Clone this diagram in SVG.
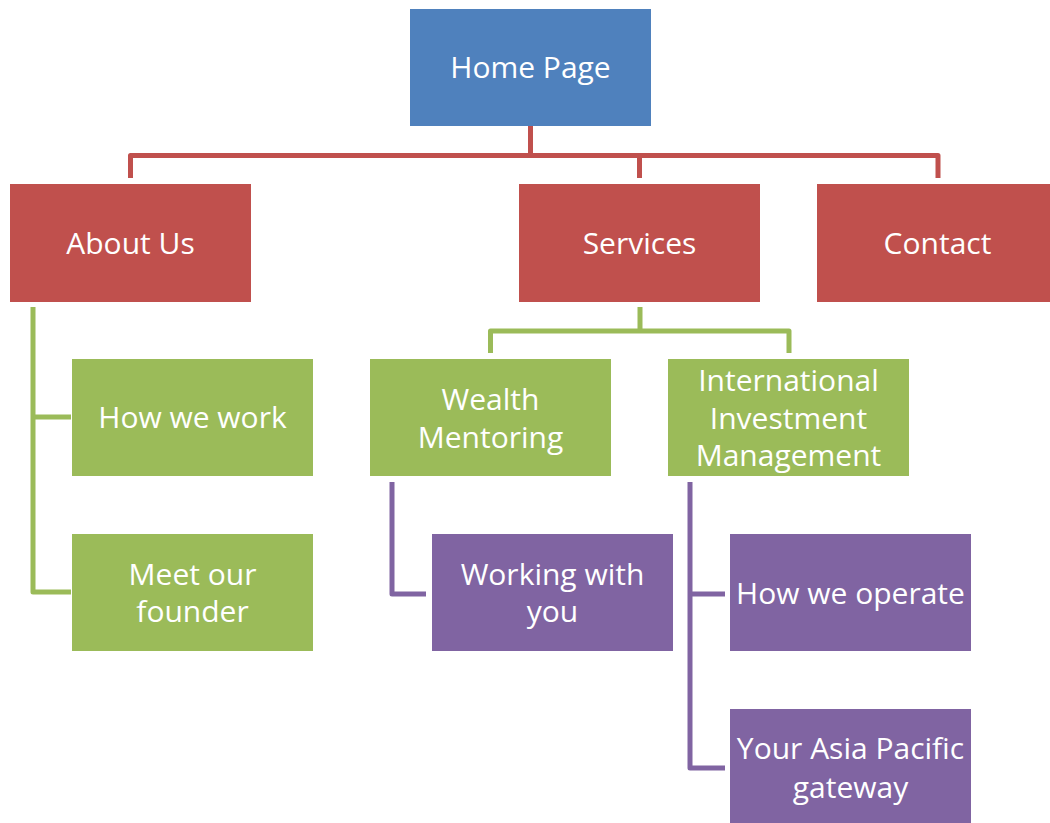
<svg xmlns="http://www.w3.org/2000/svg" width="1050" height="823" viewBox="0 0 1050 823">
<style>
.n text{font-family:"Open Sans","Liberation Sans",sans-serif;font-size:30px;fill:#fff;text-anchor:middle}
.blue{fill:#4F81BD}.red{fill:#C0504D}.green{fill:#9BBB59}.purple{fill:#8064A2}
.c path{fill:none;stroke-width:5;stroke-linejoin:round}
.cr{stroke:#C0504D}.cg{stroke:#9BBB59}.cp{stroke:#8064A2}
</style>
<rect width="1050" height="823" fill="#fff"/>
<g class="c" id="connectors">
<path class="cr" d="M530.5 126V155.5M130.5 178V155.5H938V178M639.5 155.5V178"/>
<path class="cg" d="M33 307V592H71M33 417H71"/>
<path class="cg" d="M640 307V331M490.5 353V331H789V353"/>
<path class="cp" d="M392 482V594H426"/>
<path class="cp" d="M690 482V768H725M690 594H725"/>
</g>
<g class="n" id="home"><rect class="blue" x="410" y="9" width="241" height="117"/><text x="530.5" y="78">Home Page</text></g>
<g class="n" id="about"><rect class="red" x="10" y="184" width="241" height="118"/><text x="130.5" y="254">About Us</text></g>
<g class="n" id="services"><rect class="red" x="519" y="184" width="241" height="118"/><text x="639.5" y="254">Services</text></g>
<g class="n" id="contact"><rect class="red" x="817" y="184" width="241" height="118"/><text x="937.5" y="254">Contact</text></g>
<g class="n" id="howwework"><rect class="green" x="72" y="359" width="241" height="117"/><text x="192.5" y="428">How we work</text></g>
<g class="n" id="founder"><rect class="green" x="72" y="534" width="241" height="117"/><text x="192.5" y="585">Meet our</text><text x="192.5" y="622">founder</text></g>
<g class="n" id="wealth"><rect class="green" x="370" y="359" width="241" height="117"/><text x="490.5" y="410">Wealth</text><text x="490.5" y="448">Mentoring</text></g>
<g class="n" id="intl"><rect class="green" x="668" y="359" width="241" height="117"/><text x="788.5" y="391">International</text><text x="788.5" y="429">Investment</text><text x="788.5" y="466">Management</text></g>
<g class="n" id="working"><rect class="purple" x="432" y="534" width="241" height="117"/><text x="552.5" y="585">Working with</text><text x="552.5" y="622">you</text></g>
<g class="n" id="operate"><rect class="purple" x="730" y="534" width="241" height="117"/><text x="850.5" y="604">How we operate</text></g>
<g class="n" id="asia"><rect class="purple" x="730" y="709" width="241" height="114"/><text x="850.5" y="759">Your Asia Pacific</text><text x="850.5" y="798">gateway</text></g>
</svg>
